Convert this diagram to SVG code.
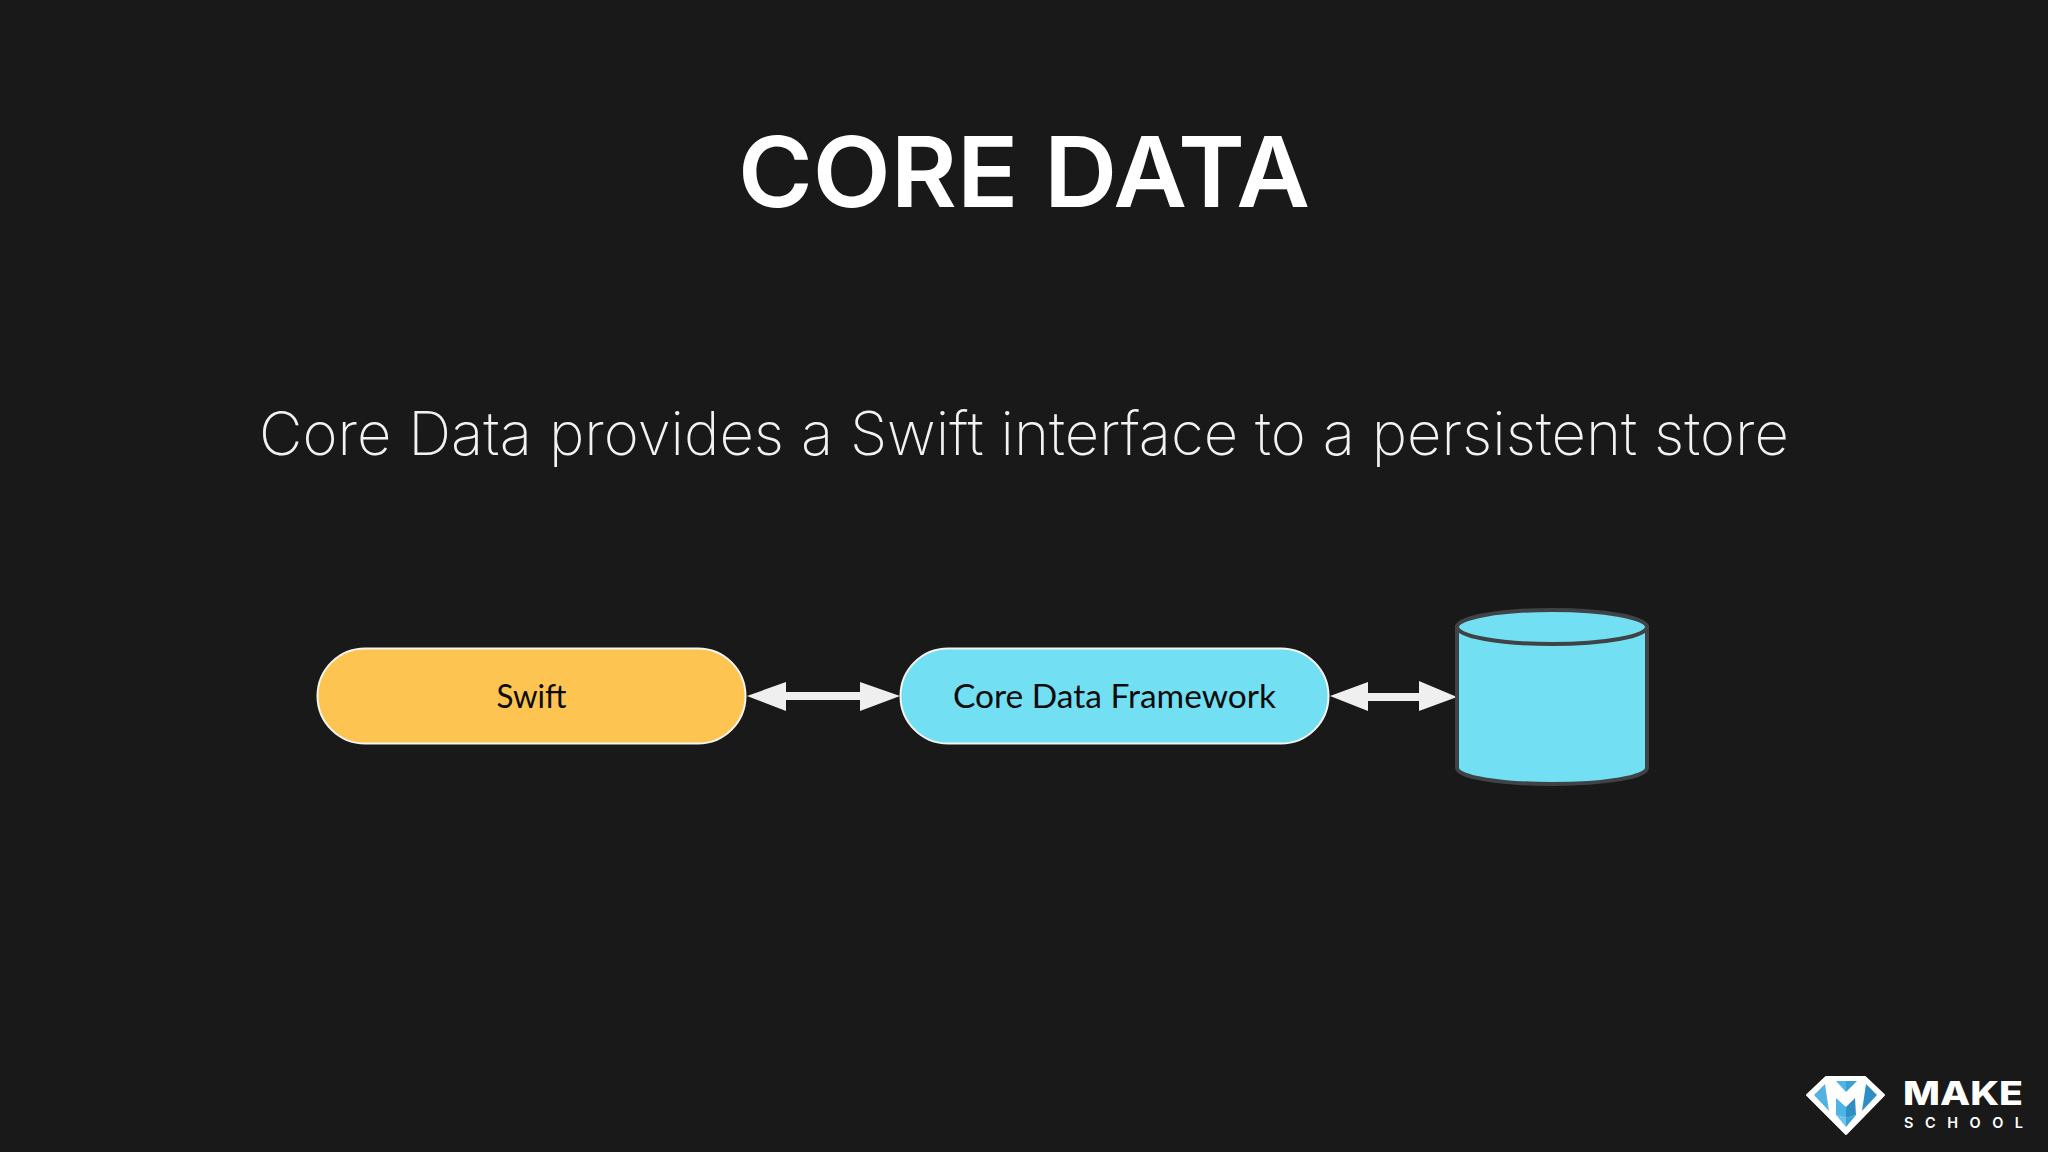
<svg xmlns="http://www.w3.org/2000/svg" width="2048" height="1152" viewBox="0 0 2048 1152">
<style>
.pill{stroke:#f4f4f0;stroke-width:2}
.lbl{font-family:"Lato","Liberation Sans",sans-serif;font-size:33px;fill:#0c0c0c;text-anchor:middle}
.arrow{fill:#efefef}
</style>
<rect width="2048" height="1152" fill="#19191a"/>
<text id="title" x="1024" y="207" font-family="Inter,'Liberation Sans',sans-serif" font-weight="600" font-size="98" fill="#fff" text-anchor="middle" textLength="572" lengthAdjust="spacingAndGlyphs">CORE DATA</text>
<text id="subtitle" x="1024" y="455" font-family="Inter,'Liberation Sans',sans-serif" font-weight="150" font-size="60" fill="#f2f2f2" text-anchor="middle" textLength="1530" lengthAdjust="spacingAndGlyphs">Core Data provides a Swift interface to a persistent store</text>
<g id="connectors">
<polygon class="arrow" points="747,696 786,682 786,692 860,692 860,682 900,696 860,711 860,700 786,700 786,711"/>
<polygon class="arrow" points="1330,696 1368,682 1368,693 1419,693 1419,681 1457,697 1419,711 1419,701 1368,701 1368,711"/>
</g>
<g id="swift">
<rect class="pill" x="317.500" y="648.500" width="428" height="95" rx="47.500" fill="#fdc451"/>
<text class="lbl" x="531.500" y="708" textLength="70" lengthAdjust="spacingAndGlyphs">Swift</text>
</g>
<g id="framework">
<rect class="pill" x="900.500" y="648.500" width="428" height="95" rx="47.500" fill="#72dff2"/>
<text class="lbl" x="1114.500" y="708" textLength="323" lengthAdjust="spacingAndGlyphs">Core Data Framework</text>
</g>
<g id="store" stroke="#404345" stroke-width="4">
<path d="M1457 627V768C1457 777 1500 784 1552 784S1647 777 1647 768V627Z" fill="#72dff2"/>
<ellipse cx="1552" cy="627" rx="95" ry="17" fill="#72dff2"/>
</g>
<g id="logo">
<polygon points="1807,1095 1826,1077 1865,1077 1884,1095 1846,1134" fill="#fff" stroke="#fff" stroke-width="2" stroke-linejoin="round"/>
<polygon points="1814,1095 1825,1084 1829,1111" fill="#54b2e2"/>
<polygon points="1877,1095 1866,1084 1862,1111" fill="#2f8fc4"/>
<polygon points="1836,1081 1846,1081 1846,1092" fill="#4eb4e6"/>
<polygon points="1846,1081 1857,1081 1846,1092" fill="#3a9fd4"/>
<polygon points="1836,1098 1846,1107 1846,1118 1836,1115" fill="#4eb4e6"/>
<polygon points="1855,1098 1846,1107 1846,1118 1856,1115" fill="#2f8fc4"/>
<polygon points="1836,1115 1846,1118 1846,1127" fill="#6cc3ec"/>
<polygon points="1856,1115 1846,1118 1846,1127" fill="#3a9fd4"/>
<text x="1903" y="1105" font-family="Inter,'Liberation Sans',sans-serif" font-weight="800" font-size="32" fill="#fff" textLength="120" lengthAdjust="spacingAndGlyphs">MAKE</text>
<text x="1904" y="1128" font-family="Inter,'Liberation Sans',sans-serif" font-weight="600" font-size="14.500" fill="#fff" textLength="119">SCHOOL</text>
</g>
</svg>
